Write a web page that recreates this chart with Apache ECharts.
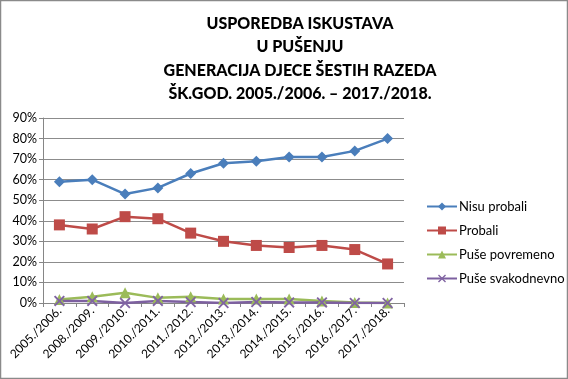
<!DOCTYPE html>
<html><head><meta charset="utf-8">
<script src="https://cdn.jsdelivr.net/npm/echarts@6/dist/echarts.min.js"></script>
<style>html,body{margin:0;padding:0;background:#fff}#c{width:568px;height:379px}</style>
</head><body><div id="c"></div>
<script>
const categories = ['2005./2006.','2008./2009.','2009./2010.','2010./2011.','2011./2012.','2012./2013.','2013./2014.','2014./2015.','2015./2016.','2016./2017.','2017./2018.'];
const nisuProbali = [59,60,53,56,63,68,69,71,71,74,80];
const probali = [38,36,42,41,34,30,28,27,28,26,19];
const pusePovremeno = [1.7,3,5,2.5,3,2,2,2,1,0.3,0];
const puseSvakodnevno = [1,1,0,1,0.5,0,0.5,0.3,0.3,0,0];
const yTicks = [0,10,20,30,40,50,60,70,80,90];
const titleLines = ['USPOREDBA ISKUSTAVA','U PUŠENJU','GENERACIJA DJECE ŠESTIH RAZEDA','ŠK.GOD. 2005./2006. – 2017./2018.'];

const F = 'Lato, "Open Sans", sans-serif';
const chart = echarts.init(document.getElementById('c'));
const xSym = 'path://M0,1.2L1.2,0L5,3.8L8.8,0L10,1.2L6.2,5L10,8.8L8.8,10L5,6.2L1.2,10L0,8.8L3.8,5Z';
chart.setOption({
  animation:false,
  title:{text:titleLines.join('\n'),left:295,textAlign:'center',top:7,
    textStyle:{fontFamily:F,fontWeight:900,fontSize:16,lineHeight:23.4,color:'#000'}},
  graphic:[{type:'rect',shape:{x:0.5,y:0.5,width:567,height:378},style:{fill:'none',stroke:'#8a8a8a',lineWidth:1.5}}],
  legend:{orient:'vertical',left:421,top:195,itemGap:11,itemWidth:30,itemHeight:10,
    textStyle:{fontFamily:F,fontSize:13,color:'#000',padding:[0,0,0,-3]},
    data:['Nisu probali','Probali','Puše povremeno','Puše svakodnevno']},
  grid:{left:43,right:164,top:118,bottom:76,containLabel:false},
  xAxis:{type:'category',data:categories,boundaryGap:true,
    axisLine:{lineStyle:{color:'#868686'}},
    axisTick:{show:true,length:4,inside:false,lineStyle:{color:'#868686'}},
    axisLabel:{rotate:45,fontFamily:F,fontSize:12,color:'#000',margin:6,interval:0}},
  yAxis:{type:'value',min:0,max:90,interval:10,
    axisLine:{show:true,lineStyle:{color:'#868686'}},
    axisTick:{show:true,length:4,lineStyle:{color:'#868686'}},
    splitLine:{lineStyle:{color:'#8c8c8c'}},
    axisLabel:{formatter:v=>yTicks.includes(v)?v+'%':'',fontFamily:F,fontSize:12.5,color:'#000',margin:6}},
  series:[
    {name:'Nisu probali',type:'line',data:nisuProbali,symbol:'diamond',symbolSize:11,
     itemStyle:{color:'#4A7EBB'},lineStyle:{width:2.5,color:'#4A7EBB'}},
    {name:'Probali',type:'line',data:probali,symbol:'rect',symbolSize:11,
     itemStyle:{color:'#BE4B48'},lineStyle:{width:2.5,color:'#BE4B48'}},
    {name:'Puše povremeno',type:'line',data:pusePovremeno,symbol:'triangle',symbolSize:11,
     itemStyle:{color:'#9BBB59'},lineStyle:{width:2.5,color:'#9BBB59'}},
    {name:'Puše svakodnevno',type:'line',data:puseSvakodnevno,symbol:xSym,symbolSize:11,
     itemStyle:{color:'#8064A2'},lineStyle:{width:2.5,color:'#7D60A0'}}
  ]
});
</script></body></html>
